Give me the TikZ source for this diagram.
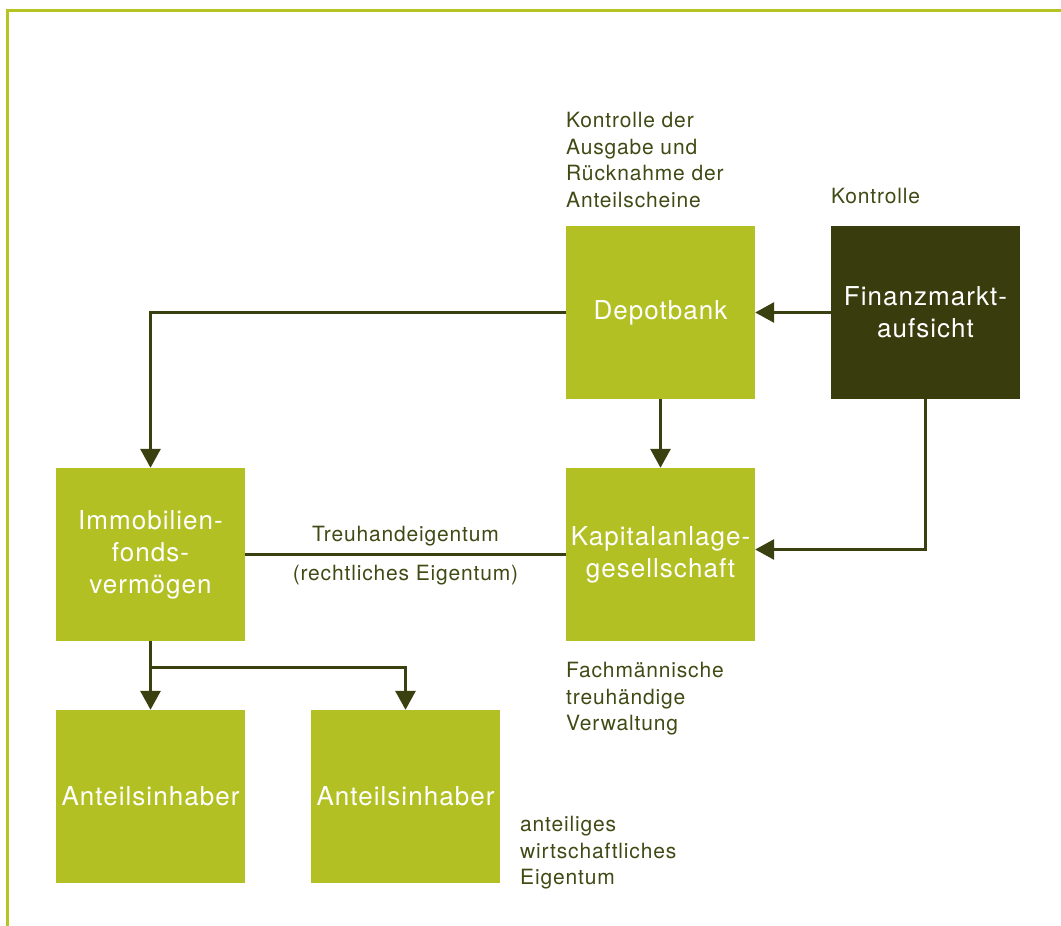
\documentclass[tikz,border=0pt]{standalone}
\usepackage{fontspec}
\setmainfont{TeX Gyre Heros}[LetterSpace=4]
\usetikzlibrary{arrows.meta,calc}

\definecolor{lime}{HTML}{B3C024}
\definecolor{frame}{HTML}{B5C421}
\definecolor{olive}{HTML}{393D0D}
\definecolor{wire}{HTML}{3A4010}
\definecolor{notetext}{HTML}{3F4A14}

\begin{document}
\begin{tikzpicture}[
		x=1pt, y=-1pt,
		box/.style={fill=lime, minimum width=189pt, minimum height=173pt, inner sep=0pt,
			text=white, align=center, font=\fontsize{26}{32}\selectfont},
		darkbox/.style={box, fill=olive},
		note/.style={anchor=north west, inner sep=0pt, align=left, text=notetext,
			font=\fontsize{21}{26.5}\selectfont},
		conn/.style={draw=wire, line width=3pt},
		arr/.style={conn, -{Triangle[width=20pt,length=19pt]}}
	]
	\useasboundingbox (0,0) rectangle (1061,926);
	% frame at top and left
	\draw[frame, line width=3pt] (1061,10) -- (7,10) -- (7,926);

	% boxes
	\node[box] (dep) at (660.5,312.5) {Depotbank};
	\node[darkbox] (fma) at (925.5,312.5) {Finanzmarkt-\\aufsicht};
	\node[box] (imm) at (150.5,554.5) {Immobilien-\\fonds-\\vermögen};
	\node[box] (kag) at (660.5,554.5) {Kapitalanlage-\\gesellschaft};
	\node[box] (ai1) at (150.5,796.5) {Anteilsinhaber};
	\node[box] (ai2) at (405.5,796.5) {Anteilsinhaber};

	% notes
	\node[note] (kontrdep) at (566,112) {Kontrolle der\\Ausgabe und\\Rücknahme der\\Anteilscheine};
	\node[note] (kontrfma) at (831,188) {Kontrolle};
	\node[note] (verw) at (566,662) {Fachmännische\\treuhändige\\Verwaltung};
	\node[note] (eigen) at (520,816) {anteiliges\\wirtschaftliches\\Eigentum};

	% connectors
	\draw[arr] (fma.west) -- (dep.east);
	\draw[arr] (dep.west) -| (imm.north);
	\draw[arr] (dep.south) -- (kag.north);
	\draw[arr] (fma.south) |- ([yshift=5pt]kag.east);
	\draw[conn] (imm.east) -- (kag.west)
		node[midway, above=7pt, note, anchor=south, font=\fontsize{21}{26.5}\selectfont] (treu) {Treuhandeigentum}
		node[midway, below=9pt, note, anchor=north] (recht) {(rechtliches Eigentum)};
	\coordinate (split) at ([yshift=-26pt]imm.south);
	\draw[arr] (imm.south) -- (ai1.north);
	\draw[arr] (split) -| (ai2.north);
\end{tikzpicture}
\end{document}
